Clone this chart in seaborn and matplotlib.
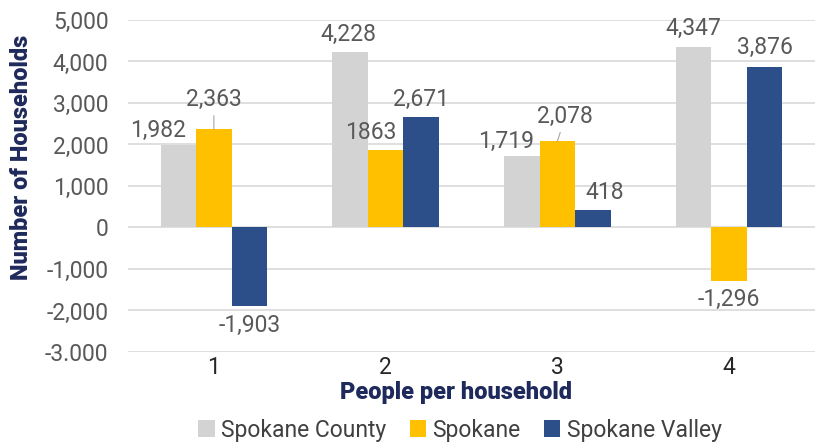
import matplotlib
matplotlib.use("Agg")
import matplotlib.pyplot as plt
import seaborn as sns
import pandas as pd
from matplotlib.patches import Patch

categories = ["1", "2", "3", "4"]
series = ["Spokane County", "Spokane", "Spokane Valley"]
county = [1982, 4228, 1719, 4347]
spokane = [2363, 1863, 2078, -1296]
valley = [-1903, 2671, 418, 3876]
county_labels = ["1,982", "4,228", "1,719", "4,347"]
spokane_labels = ["2,363", "1863", "2,078", "-1,296"]
valley_labels = ["-1,903", "2,671", "418", "3,876"]
yticks = [-3000, -2000, -1000, 0, 1000, 2000, 3000, 4000, 5000]
ytick_labels = ["-3.000", "-2,000", "-1,000", "0", "1,000", "2,000", "3,000", "4,000", "5,000"]
colors = ["#D3D3D3", "#FFC000", "#2C4F8A"]

rows = []
for s, vals in zip(series, [county, spokane, valley]):
    for c, v in zip(categories, vals):
        rows.append({"People": c, "Households": v, "Area": s})
df = pd.DataFrame(rows)

sns.set_theme(style="white")
plt.rcParams["font.family"] = ["Roboto", "DejaVu Sans"]

FS = 16.5

fig = plt.figure(figsize=(8.17, 4.44), dpi=100)
ax = fig.add_axes([128 / 817, 1 - 352 / 444, 687 / 817, 332 / 444])
sns.barplot(data=df, x="People", y="Households", hue="Area", order=categories,
            hue_order=series, palette=colors, width=0.62, saturation=1,
            ax=ax, legend=False, errorbar=None, linewidth=0)

ax.set_ylim(-3000, 5000)
ax.set_xlim(-0.5, 3.5)
ax.set_yticks(yticks)
ax.set_yticklabels(ytick_labels)
ax.yaxis.grid(True, color="#D9D9D9", lw=1.2)
ax.set_axisbelow(True)
for sp in ax.spines.values():
    sp.set_visible(False)
ax.tick_params(axis="y", length=0, pad=14, labelsize=FS, labelcolor="#595959")
ax.tick_params(axis="x", length=0, pad=3, labelsize=FS, labelcolor="#262626")
ax.set_xlabel("")
ax.set_ylabel("")

# label offsets (pixels) per series per category
offsets = [
    [(-20, 15), (-2, 18), (-16, 15), (0, 19)],
    [(0, 30), (-15, 18), (8, 25), (0, -18)],
    [(0, -19), (0, 17), (12, 18), (0, 19)],
]
leaders = [[False] * 4, [True, False, True, False], [False] * 4]
all_labels = [county_labels, spokane_labels, valley_labels]
for si, cont in enumerate(ax.containers):
    for ci, bar in enumerate(cont.patches):
        x = bar.get_x() + bar.get_width() / 2
        y = bar.get_y() + bar.get_height()
        dx, dy = offsets[si][ci]
        kw = {}
        if leaders[si][ci]:
            kw["arrowprops"] = dict(arrowstyle="-", color="#A6A6A6", lw=0.8,
                                    shrinkA=1, shrinkB=0)
        ax.annotate(all_labels[si][ci], xy=(x, y), xytext=(dx, dy),
                    textcoords="offset pixels", ha="center", va="center",
                    fontsize=FS, color="#595959", **kw)

fig.text(22 / 817, 1 - 157 / 444, "Number of Households", rotation=90,
         ha="center", va="center", fontsize=17, fontweight="heavy", color="#1F2A5C")
fig.text(456 / 817, 1 - 392 / 444, "People per household",
         ha="center", va="center", fontsize=17, fontweight="heavy", color="#1F2A5C")

handles = [Patch(facecolor=c, edgecolor="none", label=s) for c, s in zip(colors, series)]
fig.legend(handles=handles, loc="center", bbox_to_anchor=(460 / 817, 1 - 430 / 444),
           ncol=3, frameon=False, fontsize=FS, handlelength=0.7, handleheight=0.7,
           handletextpad=0.3, columnspacing=1.0, labelcolor="#404040")

fig.savefig("out.png", dpi=100, facecolor="white")
